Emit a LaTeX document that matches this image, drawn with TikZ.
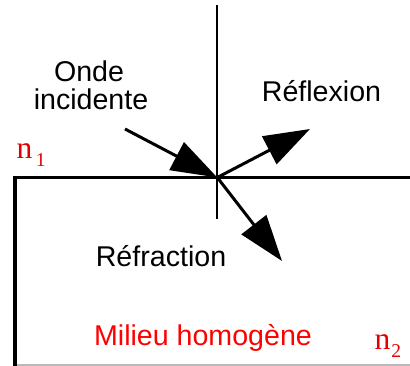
\documentclass[tikz,border=0pt]{standalone}
\usepackage{fontspec}
\setmainfont{Liberation Sans}
\newfontfamily\serifn{Liberation Serif}
\usetikzlibrary{arrows.meta}
\definecolor{nred}{RGB}{228,0,0}
\definecolor{mred}{RGB}{255,0,0}
\begin{document}
\begin{tikzpicture}[x=1pt,y=-1pt,
  lbl/.style={font=\fontsize{28.6}{28.6}\selectfont, inner sep=0pt, anchor=base},
  idx/.style={font=\fontsize{31.5}{31.5}\serifn, text=nred, inner sep=0pt, anchor=base west},
  ray/.style={line width=3pt, -{Triangle[length=46pt,width=31pt]}},
  wall/.style={line width=3.4pt, line join=miter},
  normal/.style={line width=2pt}]
\useasboundingbox (0,0) rectangle (410,366);
% interface and walls
\coordinate (wb) at (15,366);
\coordinate (wc) at (15,177.5);
\coordinate (we) at (410,177.5);
\draw[wall] (wb) -- (wc) -- (we);
\coordinate (gb) at (17,365);
\coordinate (ge) at (410,365);
\draw[gray!55, line width=1.5pt] (gb) -- (ge);
% normal
\coordinate (nt) at (217.3,5);
\coordinate (nb) at (217.3,219);
\draw[normal] (nt) -- (nb);
% rays
\coordinate (O) at (217.3,177.5);
\coordinate (inc) at (125,129);
\coordinate (refl) at (310,129);
\coordinate (refr) at (282,261);
\draw[ray] (inc) -- (O);
\draw[ray] (O) -- (refl);
\draw[ray] (O) -- (refr);
% labels
\node[lbl] (onde) at (89,82) {Onde};
\node[lbl] (incid) at (91,110) {incidente};
\node[lbl] (reflx) at (321.5,102) {Réflexion};
\node[lbl] (refrx) at (161,267) {Réfraction};
\node[lbl, text=mred] (milieu) at (203,345) {Milieu homogène};
\node[idx] (n1) at (16.5,159) {n\kern3.5pt\raisebox{-8pt}{\fontsize{19.5}{19.5}\selectfont 1}};
\node[idx] (n2) at (374.5,349) {n\kern1pt\raisebox{-8pt}{\fontsize{19.5}{19.5}\selectfont 2}};
\end{tikzpicture}
\end{document}
